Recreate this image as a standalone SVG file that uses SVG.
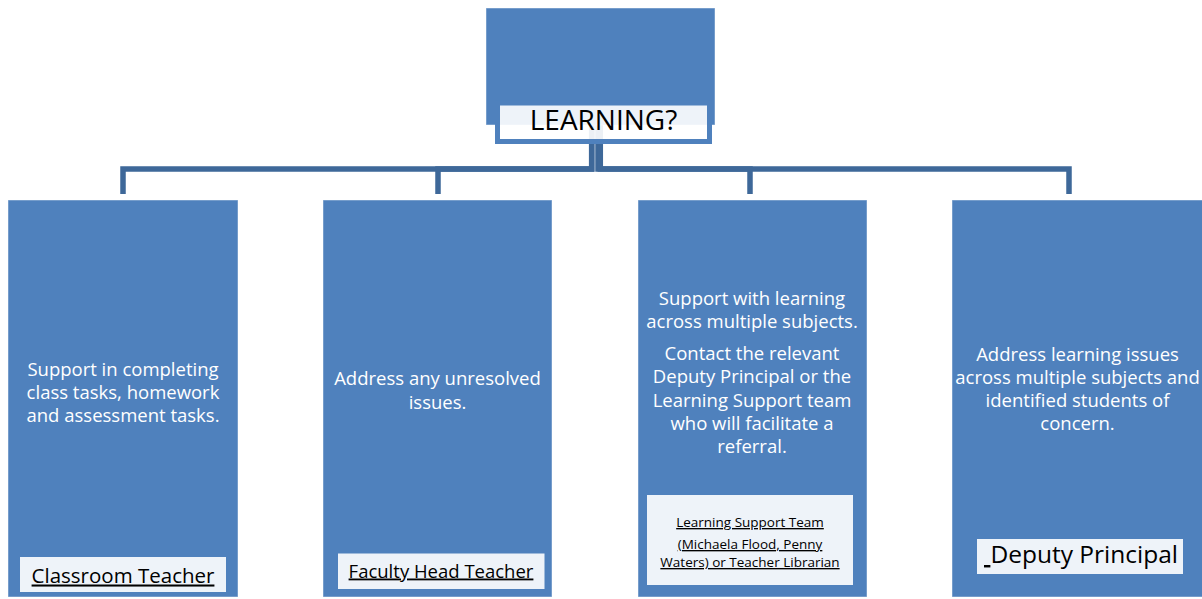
<svg xmlns="http://www.w3.org/2000/svg" width="1202" height="599" viewBox="0 0 1202 599">
<style>
.box{fill:#4f81bd;stroke:#ffffff;stroke-opacity:0.45;stroke-width:1}
.lbl{fill:#ffffff;fill-opacity:0.9}
.conn{fill:none;stroke:#3e6899;stroke-width:5.5;stroke-linejoin:miter}
.body{font-family:"Open Sans","Liberation Sans",sans-serif;font-size:18.5px;fill:#ffffff;text-anchor:middle}
.tag{font-family:"Open Sans","Liberation Sans",sans-serif;fill:#000000;text-anchor:middle;text-decoration:underline}
</style>
<rect width="1202" height="599" fill="#ffffff"/>
<g id="connectors">
<path class="conn" d="M591.7,125 V169 H123 V194"/>
<path class="conn" d="M591.7,125 V169 H438 V194"/>
<path class="conn" d="M598,125 V169 H750 V194"/>
<path class="conn" d="M600.3,125 V169 H1069 V194"/>
</g>
<g id="learning">
<rect class="box" x="486" y="8" width="229" height="117"/>
<rect class="lbl" x="497.5" y="103" width="212" height="38.5" stroke="#4f81bd" stroke-width="5"/>
<text x="603.5" y="130" font-family="'Open Sans','Liberation Sans',sans-serif" font-size="28" fill="#000000" text-anchor="middle">LEARNING?</text>
</g>
<g id="classroom-teacher">
<rect class="box" x="8" y="200" width="230" height="397"/>
<text class="body" x="123" y="376">Support in completing</text>
<text class="body" x="123" y="399">class tasks, homework</text>
<text class="body" x="123" y="422">and assessment tasks.</text>
<rect class="lbl" x="20" y="557" width="206" height="35"/>
<text class="tag" x="123" y="582.5" font-size="20.5">Classroom Teacher</text>
</g>
<g id="faculty-head-teacher">
<rect class="box" x="323" y="200" width="229" height="397"/>
<text class="body" x="437.5" y="385">Address any unresolved</text>
<text class="body" x="437.5" y="408.5">issues.</text>
<rect class="lbl" x="338" y="553.5" width="206.5" height="35.5"/>
<text class="tag" x="441" y="577.5" font-size="18.5">Faculty Head Teacher</text>
</g>
<g id="learning-support">
<rect class="box" x="638" y="200" width="229" height="397"/>
<text class="body" x="752" y="305">Support with learning</text>
<text class="body" x="752" y="328.3">across multiple subjects.</text>
<text class="body" x="752" y="360">Contact the relevant</text>
<text class="body" x="752" y="383.3">Deputy Principal or the</text>
<text class="body" x="752" y="406.6">Learning Support team</text>
<text class="body" x="752" y="429.9">who will facilitate a</text>
<text class="body" x="752" y="453.2">referral.</text>
<rect class="lbl" x="647" y="495" width="206" height="90"/>
<text class="tag" x="750" y="527" font-size="13.5">Learning Support Team</text>
<text class="tag" x="750" y="549" font-size="13.5">(Michaela Flood, Penny</text>
<text class="tag" x="750" y="567" font-size="13.5">Waters) or Teacher Librarian</text>
</g>
<g id="deputy-principal">
<rect class="box" x="952" y="200" width="251" height="397"/>
<text class="body" x="1077.5" y="361">Address learning issues</text>
<text class="body" x="1077.5" y="384">across multiple subjects and</text>
<text class="body" x="1077.5" y="407">identified students of</text>
<text class="body" x="1077.5" y="430">concern.</text>
<rect class="lbl" x="977" y="539" width="206" height="35"/>
<text x="984" y="563" font-family="'Open Sans','Liberation Sans',sans-serif" font-size="24.5" fill="#000000"><tspan text-decoration="underline">&#160;</tspan>Deputy Principal</text>
</g>
</svg>
